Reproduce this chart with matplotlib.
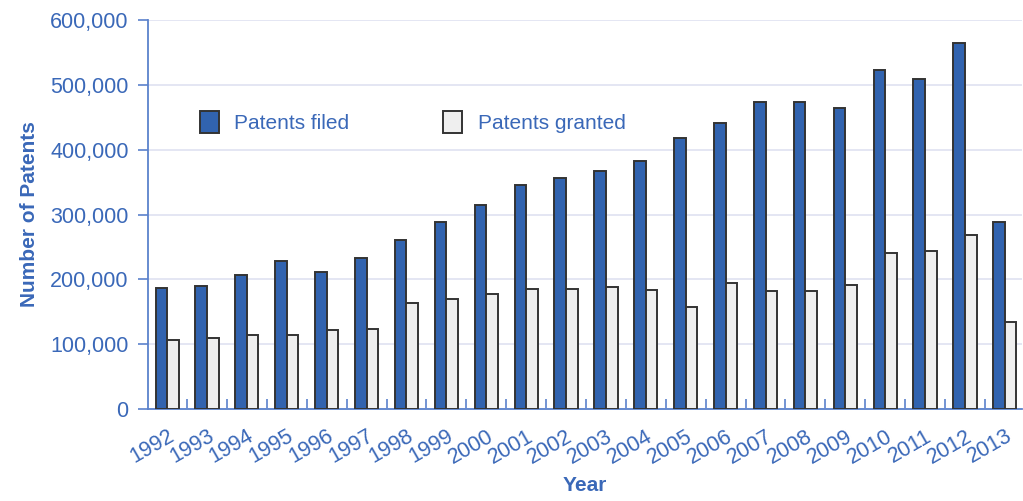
import numpy as np
import matplotlib.pyplot as plt

plt.rcParams['font.family'] = ['Liberation Sans', 'DejaVu Sans']

# Dados
anos = ['1992', '1993', '1994', '1995', '1996', '1997', '1998', '1999', '2000', '2001', '2002',
        '2003', '2004', '2005', '2006', '2007', '2008', '2009', '2010', '2011', '2012', '2013']
filed = [186000, 189000, 207000, 228000, 211000, 233000, 261000, 289000, 315000, 346000, 357000,
         367000, 383000, 418000, 441000, 474000, 474000, 465000, 523000, 509000, 564000, 289000]
granted = [107000, 110000, 114000, 114000, 122000, 124000, 164000, 170000, 177000, 185000, 185000,
           188000, 183000, 157000, 194000, 182000, 182000, 192000, 240000, 243000, 268000, 134000]

azul_txt = '#3a68b8'
azul_eixo = '#5b82cc'
azul_barra = '#3163af'
cinza_barra = '#efefef'
borda = '#333333'

fig = plt.figure(figsize=(10.23, 5.01), dpi=100)
ax = fig.add_axes([148/1023, 1 - 409/501, (1022 - 148)/1023, 389/501])

x = np.arange(len(anos))
w = 0.29
ax.bar(x - w/2, filed, w, color=azul_barra, edgecolor=borda, linewidth=1.4, label='Patents filed', zorder=3)
ax.bar(x + w/2, granted, w, color=cinza_barra, edgecolor=borda, linewidth=1.4, label='Patents granted', zorder=3)

ax.set_xlim(-0.48, 21.43)
ax.set_ylim(0, 600000)
ax.set_yticks(np.arange(0, 600001, 100000))
ax.set_yticklabels(['0', '100,000', '200,000', '300,000', '400,000', '500,000', '600,000'])
ax.yaxis.grid(True, color='#dfe1f1', linewidth=1.2, zorder=0)
ax.set_axisbelow(True)

ax.set_xticks(x)
ax.set_xticklabels(anos, rotation=30, ha='right', va='top', rotation_mode='anchor')
ax.set_xticks(np.arange(0.5, 21, 1), minor=True)
ax.tick_params(axis='x', which='major', length=0, pad=12, labelsize=15.5, labelcolor=azul_txt)
ax.tick_params(axis='x', which='minor', direction='in', length=7, width=1.2, color=azul_eixo)
ax.tick_params(axis='y', length=7, width=1.2, color=azul_eixo, pad=7, labelsize=15.5, labelcolor=azul_txt)

for s in ['top', 'right']:
    ax.spines[s].set_visible(False)
ax.spines['left'].set_color(azul_eixo)
ax.spines['bottom'].set_color(azul_eixo)
ax.spines['left'].set_linewidth(1.3)
ax.spines['bottom'].set_linewidth(1.3)

ax.set_xlabel('Year', fontsize=15, fontweight='bold', color=azul_txt, labelpad=6)
ax.set_ylabel('Number of Patents', fontsize=15, fontweight='bold', color=azul_txt, labelpad=8)

leg = ax.legend(ncol=2, loc='center left', bbox_to_anchor=(200/1023, 1 - 122/501),
                bbox_transform=fig.transFigure, frameon=False, fontsize=15,
                handlelength=0.9, handleheight=1.3, handletextpad=0.75,
                columnspacing=4.5, borderpad=0, borderaxespad=0)
for t in leg.get_texts():
    t.set_color(azul_txt)

fig.savefig('out.png', dpi=100)
